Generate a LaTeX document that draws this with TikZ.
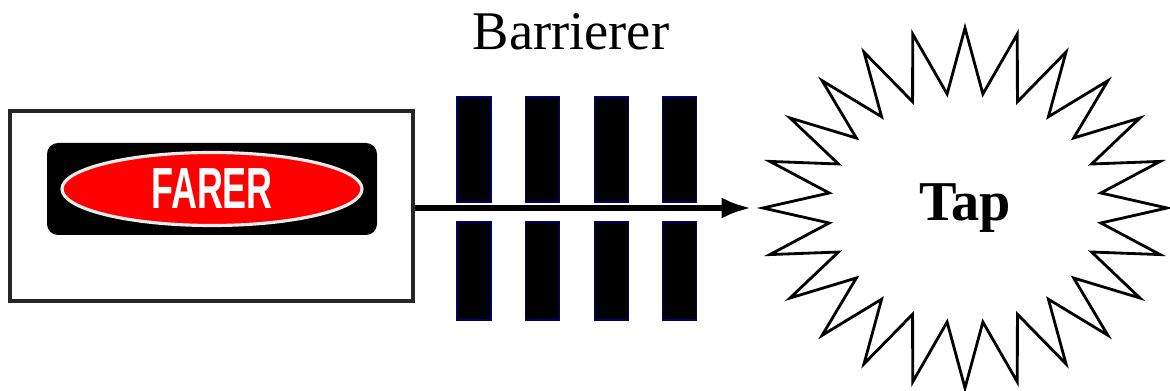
\documentclass[tikz,border=0pt]{standalone}
\usepackage{fontspec}
\setmainfont{Liberation Serif}
\newfontfamily\condsans[FakeStretch=0.62]{Liberation Sans}
\usetikzlibrary{arrows.meta,shapes.geometric,shapes.symbols}

\begin{document}
\begin{tikzpicture}[thick,>={Latex[length=0.6cm,width=0.42cm]}]
    \tikzstyle{frame}=[draw=black!85,line width=2.3pt,minimum width=8.06cm,minimum height=3.8cm]
    \tikzstyle{plate}=[fill=black,rounded corners=0.22cm,minimum width=6.6cm,minimum height=1.84cm]
    \tikzstyle{sign}=[ellipse,fill=red,draw=white!92!black,line width=1.8pt,minimum width=6cm,minimum height=1.46cm,
      font=\condsans\bfseries\fontsize{33}{35}\selectfont,text=white]
    \tikzstyle{bar}=[fill=black,draw=blue!45!black,line width=0.6pt,minimum width=0.68cm,inner sep=0pt]
    \tikzstyle{burst}=[starburst,draw,line width=1.6pt,fill=white,minimum width=8.08cm,minimum height=7.2cm,
      starburst points=24,starburst point height=1.3cm,random starburst=0,
      font=\bfseries\fontsize{32}{34}\selectfont]
    \useasboundingbox (0,0) rectangle (23.4,7.82);
    \node[frame] (src) at (4.23,3.7) {};
    \node[plate] (plate) at (4.24,4.04) {};
    \node[sign] (farer) at (plate) {FARER};
    % barriers, upper and lower half
    \foreach \i/\x in {1/9.48,2/10.85,3/12.23,4/13.59}{
      \node[bar,minimum height=2.1cm] (bt\i) at (\x,4.83) {};
      \node[bar,minimum height=1.96cm] (bb\i) at (\x,2.4) {};
    }
    \node[anchor=base,font=\fontsize{31}{33}\selectfont] (lbl) at (11.42,6.82) {Barrierer};
    \node[burst] (tap) at (19.3,3.66) {Tap};
    \draw[->,line width=3.2pt,shorten >=0.1cm] (src.east |- tap.center) -- (tap.west |- tap.center);
  \end{tikzpicture}
\end{document}
